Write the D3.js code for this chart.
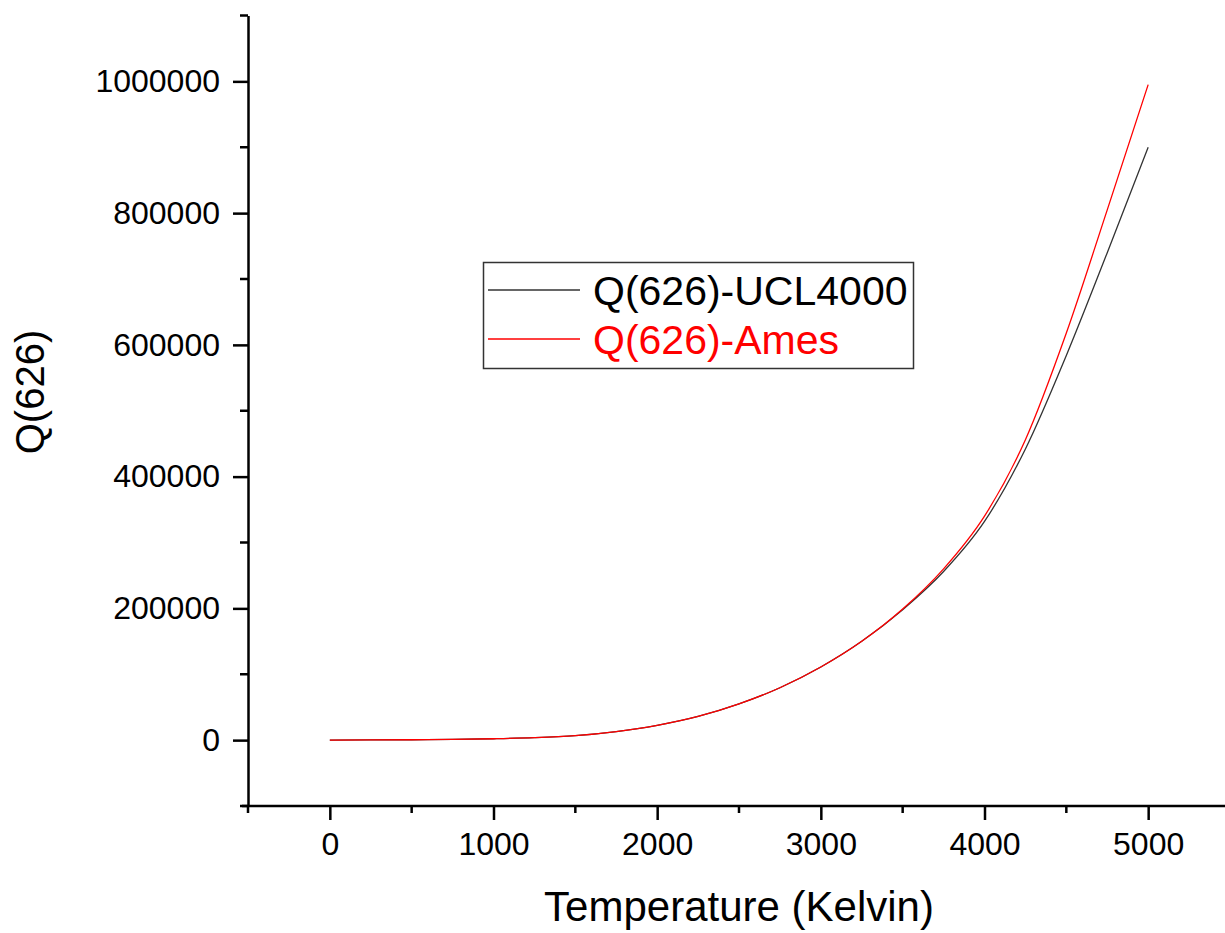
<!DOCTYPE html>
<html>
<head>
<meta charset="utf-8">
<script src="https://cdn.jsdelivr.net/npm/d3@7"></script>
<style>
    body { margin: 0; background: #ffffff; }
    svg text { font-family: "Liberation Sans", Arial, sans-serif; }
</style>
</head>
<body>
<div id="chart"></div>
<script>
// Temperature grid (K)
const temperature = [0, 250, 500, 750, 1000, 1250, 1500, 1750, 2000, 2250, 2500,
    2750, 3000, 3250, 3500, 3750, 4000, 4250, 4500, 4750, 5000];

// Partition function Q(626), UCL4000 line list
const qUCL = [1, 230, 580, 1150, 2100, 3700, 6800, 13000, 22500, 36000, 55000,
    79500, 111000, 150000, 198000, 256000, 332000, 442000, 584000, 740000, 900000];

// Partition function Q(626), Ames line list
const qAmes = [1, 230, 580, 1150, 2100, 3700, 6800, 13000, 22500, 36000, 55000,
    79500, 111000, 150000, 199000, 260000, 340000, 456000, 618000, 805000, 995000];

const xTicks = [0, 1000, 2000, 3000, 4000, 5000];
const yTicks = [0, 200000, 400000, 600000, 800000, 1000000];

const seriesNames = ['Q(626)-UCL4000', 'Q(626)-Ames'];
const seriesColors = ['#333333', '#ff0000'];

const width = 1225, height = 933;

const svg = d3.select('#chart').append('svg')
    .attr('width', width)
    .attr('height', height);

// scales: x -500..5500, y -100000..1100000
const x = d3.scaleLinear()
    .domain([-500, 5500])
    .range([248, 1230]);

const y = d3.scaleLinear()
    .domain([-100000, 1100000])
    .range([806, 15.5]);

// minor ticks
const xMinor = d3.range(-500, 5501, 1000);
const yMinor = d3.range(-100000, 1100001, 200000);

svg.append('g')
    .selectAll('line')
    .data(xMinor)
    .join('line')
    .attr('x1', d => x(d)).attr('x2', d => x(d))
    .attr('y1', 806).attr('y2', 813)
    .attr('stroke', '#000').attr('stroke-width', 2.5);

svg.append('g')
    .selectAll('line')
    .data(yMinor)
    .join('line')
    .attr('y1', d => y(d)).attr('y2', d => y(d))
    .attr('x1', 240).attr('x2', 248)
    .attr('stroke', '#000').attr('stroke-width', 2.5);

// X axis
const xAxis = svg.append('g')
    .attr('transform', 'translate(0, 806)')
    .call(d3.axisBottom(x).tickValues(xTicks).tickSize(14).tickPadding(12).tickSizeOuter(0)
        .tickFormat(d3.format('d')));

// Y axis
const yAxis = svg.append('g')
    .attr('transform', 'translate(248, 0)')
    .call(d3.axisLeft(y).tickValues(yTicks).tickSize(15).tickPadding(13).tickSizeOuter(0)
        .tickFormat(d3.format('d')));

[xAxis, yAxis].forEach(g => {
    g.select('.domain').attr('stroke', '#000').attr('stroke-width', 2.5);
    g.selectAll('.tick line').attr('stroke', '#000').attr('stroke-width', 2.5);
    g.selectAll('.tick text')
        .attr('fill', '#000')
        .style('font-size', '32px');
});
xAxis.select('.domain').attr('d', 'M242,0H1230');

// curves
const line = d3.line()
    .x((d, i) => x(temperature[i]))
    .y(d => y(d))
    .curve(d3.curveMonotoneX);

[qUCL, qAmes].forEach((series, i) => {
    svg.append('path')
        .datum(series)
        .attr('fill', 'none')
        .attr('stroke', seriesColors[i])
        .attr('stroke-width', 1.3)
        .attr('d', line);
});

// axis titles
svg.append('text')
    .attr('x', 739)
    .attr('y', 921)
    .attr('text-anchor', 'middle')
    .style('font-size', '42px')
    .text('Temperature (Kelvin)');

svg.append('text')
    .attr('transform', 'translate(44, 392) rotate(-90)')
    .attr('text-anchor', 'middle')
    .style('font-size', '40px')
    .text('Q(626)');

// legend
const legend = svg.append('g');
legend.append('rect')
    .attr('x', 483.5).attr('y', 262.5)
    .attr('width', 430).attr('height', 106)
    .attr('fill', '#fff')
    .attr('stroke', '#333').attr('stroke-width', 1.5);

seriesNames.forEach((name, i) => {
    const ly = 290 + i * 49;
    legend.append('line')
        .attr('x1', 488).attr('x2', 580)
        .attr('y1', ly).attr('y2', ly)
        .attr('stroke', seriesColors[i])
        .attr('stroke-width', 1.3);
    legend.append('text')
        .attr('x', 593)
        .attr('y', ly + 15)
        .attr('fill', i === 0 ? '#000' : '#ff0000')
        .style('font-size', '41px')
        .text(name);
});
</script>
</body>
</html>
